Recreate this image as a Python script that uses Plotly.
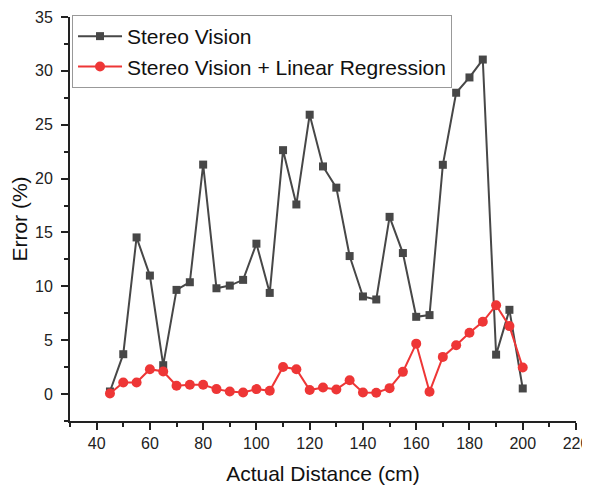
import plotly.graph_objects as go

distance = [45, 50, 55, 60, 65, 70, 75, 80, 85, 90, 95, 100, 105, 110, 115, 120,
            125, 130, 135, 140, 145, 150, 155, 160, 165, 170, 175, 180, 185, 190, 195, 200]
stereo = [0.24, 3.7, 14.54, 11.0, 2.68, 9.67, 10.38, 21.3, 9.82, 10.07, 10.6, 13.96,
          9.39, 22.64, 17.6, 25.93, 21.13, 19.16, 12.81, 9.06, 8.78, 16.45, 13.09, 7.17,
          7.33, 21.28, 27.97, 29.39, 31.05, 3.66, 7.82, 0.52]
stereo_lr = [0.05, 1.07, 1.07, 2.31, 2.09, 0.77, 0.86, 0.86, 0.46, 0.24, 0.15, 0.46,
             0.3, 2.52, 2.31, 0.37, 0.61, 0.43, 1.29, 0.15, 0.12, 0.55, 2.06, 4.68,
             0.21, 3.45, 4.53, 5.69, 6.71, 8.25, 6.31, 2.46]

FONT = "Arial, Liberation Sans, sans-serif"

fig = go.Figure()
fig.add_trace(go.Scatter(
    x=distance, y=stereo, mode="lines+markers", name="Stereo Vision",
    line=dict(color="#474747", width=2),
    marker=dict(symbol="square", size=8, color="#474747"),
))
fig.add_trace(go.Scatter(
    x=distance, y=stereo_lr, mode="lines+markers", name="Stereo Vision + Linear Regression",
    line=dict(color="#ee3636", width=2),
    marker=dict(symbol="circle", size=10, color="#ee3636"),
))

axis_common = dict(
    showline=True, linecolor="#222222", linewidth=2,
    ticks="outside", ticklen=7, tickwidth=1.5, tickcolor="#222222",
    showgrid=False, zeroline=False, mirror=False, automargin=False,
    ticklabeloverflow="allow",
    tickfont=dict(family=FONT, size=16, color="#222222"),
)

# page body has an 8px default margin; compensate so the plot sits where the reference does
fig.update_layout(
    width=582, height=477,
    margin=dict(l=62, r=14, t=7, b=64),
    paper_bgcolor="white", plot_bgcolor="white",
    font=dict(family=FONT, color="#222222"),
    showlegend=True,
    legend=dict(
        x=0.004, y=1.005, xanchor="left", yanchor="top",
        bgcolor="white", bordercolor="#999999", borderwidth=1,
        font=dict(family=FONT, size=21, color="#111111"),
        itemwidth=44, tracegroupgap=0,
    ),
    xaxis=dict(
        range=[30, 220], tickmode="array", tickvals=list(range(40, 221, 20)),
        minor=dict(tickvals=list(range(30, 221, 10)), ticks="outside", ticklen=4,
                   tickcolor="#222222", tickwidth=1.5),
        title=dict(text="Actual Distance (cm)", font=dict(family=FONT, size=21, color="#111111"),
                   standoff=19),
        ticklabelstandoff=0,
        **axis_common,
    ),
    yaxis=dict(
        range=[-2.5, 35], tickmode="array", tickvals=list(range(0, 36, 5)),
        minor=dict(tickvals=[-2.5 + 5 * i for i in range(8)], ticks="outside", ticklen=4,
                   tickcolor="#222222", tickwidth=1.5),
        title=dict(text="Error (%)", font=dict(family=FONT, size=21, color="#111111"),
                   standoff=2),
        ticklabelstandoff=5,
        **axis_common,
    ),
)

fig.write_html("out.html")
